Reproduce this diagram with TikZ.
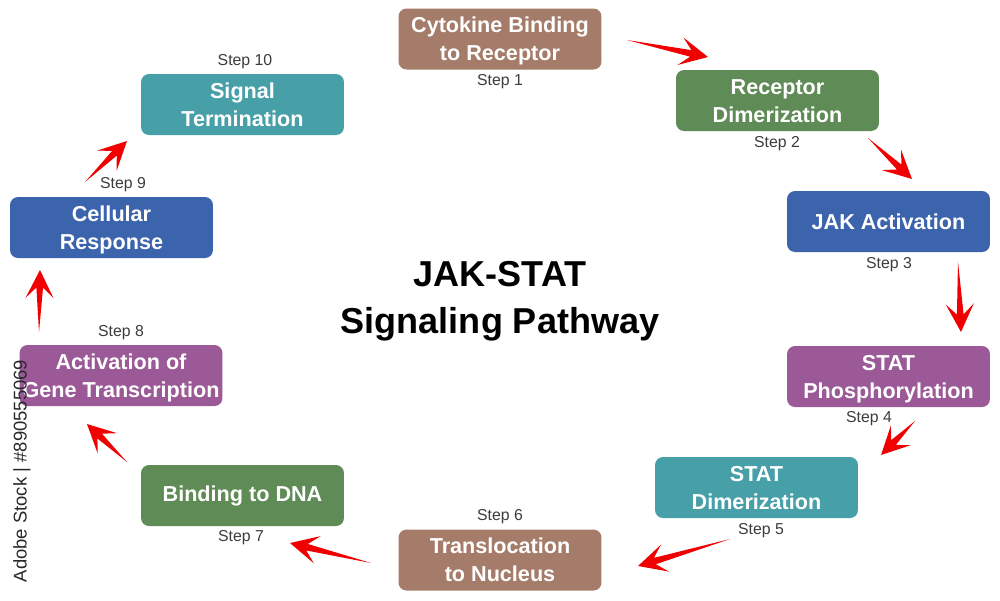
\documentclass[tikz,border=0pt]{standalone}
\usepackage{fontspec}
\setmainfont{Liberation Sans}
\usetikzlibrary{calc}
\definecolor{cbrown}{RGB}{165,124,105}
\definecolor{cgreen}{RGB}{95,139,86}
\definecolor{cblue}{RGB}{60,100,173}
\definecolor{cpurple}{RGB}{155,90,151}
\definecolor{cteal}{RGB}{71,159,167}
\definecolor{arrowred}{RGB}{240,0,0}
\definecolor{steptext}{RGB}{60,60,60}
\definecolor{marktext}{RGB}{40,40,40}
\newcommand\tarrow[2]{%
 \fill[arrowred] (#1) -- ($(#2)!10pt!(#1)!1.9pt!90:(#1)$) -- ($(#2)!16pt!(#1)!8pt!90:(#1)$) -- (#2)
   -- ($(#2)!16pt!(#1)!8pt!-90:(#1)$) -- ($(#2)!10pt!(#1)!1.9pt!-90:(#1)$) -- cycle;}
\newcommand\twolines[2]{\raisebox{-0.045cm}[\height][\depth]{\begin{tabular}{@{}c@{}}#1\\#2\end{tabular}}}
\begin{document}
\begin{tikzpicture}[x=0.02cm,y=-0.02cm,
  stepbox/.style={rectangle,rounded corners=0.16cm,minimum width=4.06cm,minimum height=1.22cm,
    inner sep=0pt,text=white,font=\fontsize{12.3}{16}\selectfont\bfseries},
  steplabel/.style={text=steptext,font=\fontsize{9}{11}\selectfont,inner sep=0pt},
  titletext/.style={align=center,font=\fontsize{20.5}{27}\selectfont\bfseries,text=black}]
\useasboundingbox[fill=white] (0,0) rectangle (1000,600);

\node[stepbox,fill=cbrown]  (b1)  at (500,39)    {\twolines{Cytokine Binding}{to Receptor}};
\node[stepbox,fill=cgreen]  (b2)  at (777.5,100.5) {\twolines{Receptor}{Dimerization}};
\node[stepbox,fill=cblue]   (b3)  at (888.5,221.5) {JAK Activation};
\node[stepbox,fill=cpurple] (b4)  at (888.5,376.5) {\twolines{STAT}{Phosphorylation}};
\node[stepbox,fill=cteal]   (b5)  at (756.5,487.5) {\twolines{STAT}{Dimerization}};
\node[stepbox,fill=cbrown]  (b6)  at (500,560)   {\twolines{Translocation}{to Nucleus}};
\node[stepbox,fill=cgreen]  (b7)  at (242.5,495.5) {Binding to DNA};
\node[stepbox,fill=cpurple] (b8)  at (121,375.5) {\twolines{Activation of}{Gene Transcription}};
\node[stepbox,fill=cblue]   (b9)  at (111.5,227.5) {\twolines{Cellular}{Response}};
\node[stepbox,fill=cteal]   (b10) at (242.5,104.5) {\twolines{Signal}{Termination}};

\node[steplabel] (s1)  at (500,82)  {Step 1};
\node[steplabel] (s2)  at (777,144) {Step 2};
\node[steplabel] (s3)  at (889,265) {Step 3};
\node[steplabel] (s4)  at (869,419) {Step 4};
\node[steplabel] (s5)  at (761,531) {Step 5};
\node[steplabel] (s6)  at (500,517) {Step 6};
\node[steplabel] (s7)  at (241,538) {Step 7};
\node[steplabel] (s8)  at (121,333) {Step 8};
\node[steplabel] (s9)  at (123,185) {Step 9};
\node[steplabel] (s10) at (245,62)  {Step 10};

\node[titletext] (title) at (500,301) {JAK-STAT\\Signaling Pathway};

\node[rotate=90,text=marktext,font=\fontsize{10.5}{12}\selectfont,inner sep=0pt] (mark) at (22,471) {Adobe Stock | \#890555069};

\coordinate (t1) at (627,40);  \coordinate (h1) at (708,57);
\coordinate (t2) at (868,138); \coordinate (h2) at (912,179);
\coordinate (t3) at (958,262); \coordinate (h3) at (961,332);
\coordinate (t4) at (915,421); \coordinate (h4) at (881,455);
\coordinate (t5) at (730,539); \coordinate (h5) at (638,566);
\coordinate (t6) at (371,563); \coordinate (h6) at (290,543);
\coordinate (t7) at (127,462); \coordinate (h7) at (87,424);
\coordinate (t8) at (39,332);  \coordinate (h8) at (40,270);
\coordinate (t9) at (85,182);  \coordinate (h9) at (127,141);

\tarrow{t1}{h1}
\tarrow{t2}{h2}
\tarrow{t3}{h3}
\tarrow{t4}{h4}
\tarrow{t5}{h5}
\tarrow{t6}{h6}
\tarrow{t7}{h7}
\tarrow{t8}{h8}
\tarrow{t9}{h9}
\end{tikzpicture}
\end{document}
